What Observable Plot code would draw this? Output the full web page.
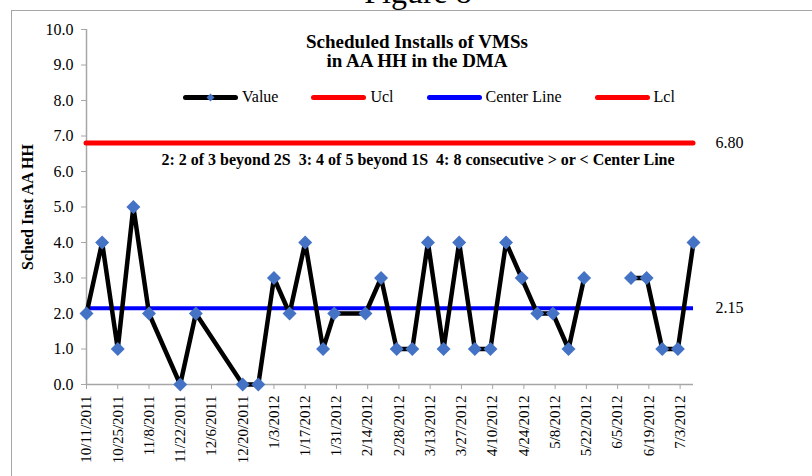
<!DOCTYPE html>
<html>
<head>
<meta charset="utf-8">
<script src="https://cdn.jsdelivr.net/npm/d3@7"></script>
<script src="https://cdn.jsdelivr.net/npm/@observablehq/plot@0.6"></script>
<style>
  html, body { margin: 0; padding: 0; background: #fff; overflow: hidden; }
  #wrap { position: relative; width: 812px; height: 476px; overflow: hidden; font-family: "Liberation Serif", "Times New Roman", serif; color: #000; }
  .abs { position: absolute; white-space: pre; }
  #border { position: absolute; left: 11px; top: 10px; width: 1000px; height: 1000px; border-left: 1.5px solid #a6a6a6; border-top: 1.5px solid #a6a6a6; }
  #fig { left: 0; width: 836px; top: -24px; font-size: 32px; line-height: 32px; text-align: center; }
  #title { left: 217px; width: 400px; top: 32px; font-size: 19px; line-height: 19px; font-weight: bold; text-align: center; }
  #note { left: 118px; width: 600px; top: 152px; font-size: 16px; line-height: 16px; font-weight: bold; text-align: center; }
  #ylab { left: 28px; top: 207px; font-size: 16px; font-weight: bold; transform: translate(-50%, -50%) rotate(-90deg); }
  #legend { left: 183px; top: 88px; display: flex; gap: 33px; font-size: 16px; line-height: 18px; align-items: center; }
  .item { display: flex; align-items: center; gap: 4px; }
  #plot { position: absolute; left: 0; top: 0; }
</style>
</head>
<body>
<div id="wrap">
  <div id="border"></div>
  <div id="fig" class="abs">Figure 8</div>
  <div id="plot"></div>
  <div id="title" class="abs"></div>
  <div id="legend" class="abs"></div>
  <div id="note" class="abs"></div>
  <div id="ylab" class="abs"></div>
</div>
<script>
// ---------- data ----------
const titleLines = ["Scheduled Installs of VMSs", "in AA HH in the DMA"];
const yLabel = "Sched Inst AA HH";
const noteText = "2: 2 of 3 beyond 2S  3: 4 of 5 beyond 1S  4: 8 consecutive > or < Center Line";
const seriesNames = ["Value", "Ucl", "Center Line", "Lcl"];
const seriesColors = ["#000000", "#ff0000", "#0000ff", "#ff0000"];

const dates = [
  "10/11/2011", "10/18/2011", "10/25/2011", "11/1/2011", "11/8/2011",
  "11/22/2011", "11/29/2011", "12/20/2011", "12/27/2011", "1/3/2012",
  "1/10/2012", "1/17/2012", "1/25/2012", "1/30/2012", "2/13/2012",
  "2/20/2012", "2/27/2012", "3/5/2012", "3/12/2012", "3/19/2012",
  "3/26/2012", "4/2/2012", "4/9/2012", "4/16/2012", "4/23/2012",
  "4/30/2012", "5/7/2012", "5/14/2012", "5/21/2012", "5/28/2012",
  "6/4/2012", "6/11/2012", "6/18/2012", "6/25/2012", "7/2/2012", "7/9/2012"
];
const values = [
  2, 4, 1, 5, 2,
  0, 2, 0, 0, 3,
  2, 4, 1, 2, 2,
  3, 1, 1, 4, 1,
  4, 1, 1, 4, 3,
  2, 2, 1, 3, null,
  null, 3, 3, 1, 1, 4
];
const ucl = 6.80;
const centerLine = 2.15;
const lcl = -2.50; // below the axis, not visible

const xTickLabels = [
  "10/11/2011", "10/25/2011", "11/8/2011", "11/22/2011", "12/6/2011",
  "12/20/2011", "1/3/2012", "1/17/2012", "1/31/2012", "2/14/2012",
  "2/28/2012", "3/13/2012", "3/27/2012", "4/10/2012", "4/24/2012",
  "5/8/2012", "5/22/2012", "6/5/2012", "6/19/2012", "7/3/2012"
];
const yTicks = [0, 1, 2, 3, 4, 5, 6, 7, 8, 9, 10];

// ---------- build ----------
const parse = d3.utcParse("%m/%d/%Y");
const fmt = d3.utcFormat("%-m/%-d/%Y");
const data = dates.map((d, i) => ({date: parse(d), value: values[i]}));
const tickDates = xTickLabels.map(parse);
const xStart = data[0].date;
const xEnd = data[data.length - 1].date;
const gray = "#a6a6a6";

const chart = Plot.plot({
  width: 812,
  height: 476,
  marginLeft: 86,
  marginRight: 119,
  marginTop: 29,
  marginBottom: 92,
  style: {fontFamily: "'Liberation Serif', 'Times New Roman', serif", fontSize: "16px", background: "transparent", color: "#000", overflow: "visible"},
  x: {type: "utc", domain: [xStart, xEnd]},
  y: {domain: [0, 10]},
  marks: [
    Plot.ruleX([xStart], {stroke: gray, strokeWidth: 1.5}),
    Plot.ruleY([0], {stroke: gray, strokeWidth: 1.5}),
    Plot.axisY(yTicks, {anchor: "left", tickSize: 5, tickPadding: 8, stroke: gray, fill: "#000", tickFormat: d => d.toFixed(1), label: null, fontSize: 16}),
    Plot.axisX(tickDates, {anchor: "bottom", tickSize: 5, tickPadding: 6, tickRotate: -90, stroke: gray, fill: "#000", tickFormat: fmt, label: null, fontSize: 15}),
    Plot.ruleY([ucl], {stroke: seriesColors[1], strokeWidth: 5, strokeLinecap: "round"}),
    Plot.ruleY([centerLine], {stroke: seriesColors[2], strokeWidth: 4}),
    Plot.lineY(data, {x: "date", y: "value", stroke: seriesColors[0], strokeWidth: 4.5, strokeLinejoin: "miter"}),
    Plot.dot(data.filter(d => d.value != null), {x: "date", y: "value", symbol: "diamond2", r: 6.3, fill: "#4472C4", stroke: "none"}),
    Plot.text([ucl, centerLine], {x: () => xEnd, y: d => d, text: d => d.toFixed(2), dx: 22, textAnchor: "start", fontSize: 16, fill: "#000"})
  ]
});
document.getElementById("plot").appendChild(chart);

document.getElementById("title").textContent = titleLines.join("\n");
document.getElementById("note").textContent = noteText;
document.getElementById("ylab").textContent = yLabel;

const legend = document.getElementById("legend");
seriesNames.forEach((name, i) => {
  const item = document.createElement("div");
  item.className = "item";
  const marker = i === 0
    ? `<path d="M27.5,3.5 L31.5,7.5 L27.5,11.5 L23.5,7.5 Z" fill="#4472C4"/>`
    : "";
  item.innerHTML = `<svg width="55" height="15" style="overflow:visible"><line x1="2.5" y1="7.5" x2="52.5" y2="7.5" stroke="${seriesColors[i]}" stroke-width="5" stroke-linecap="round"/>${marker}</svg><span>${name}</span>`;
  legend.appendChild(item);
});
</script>
</body>
</html>
